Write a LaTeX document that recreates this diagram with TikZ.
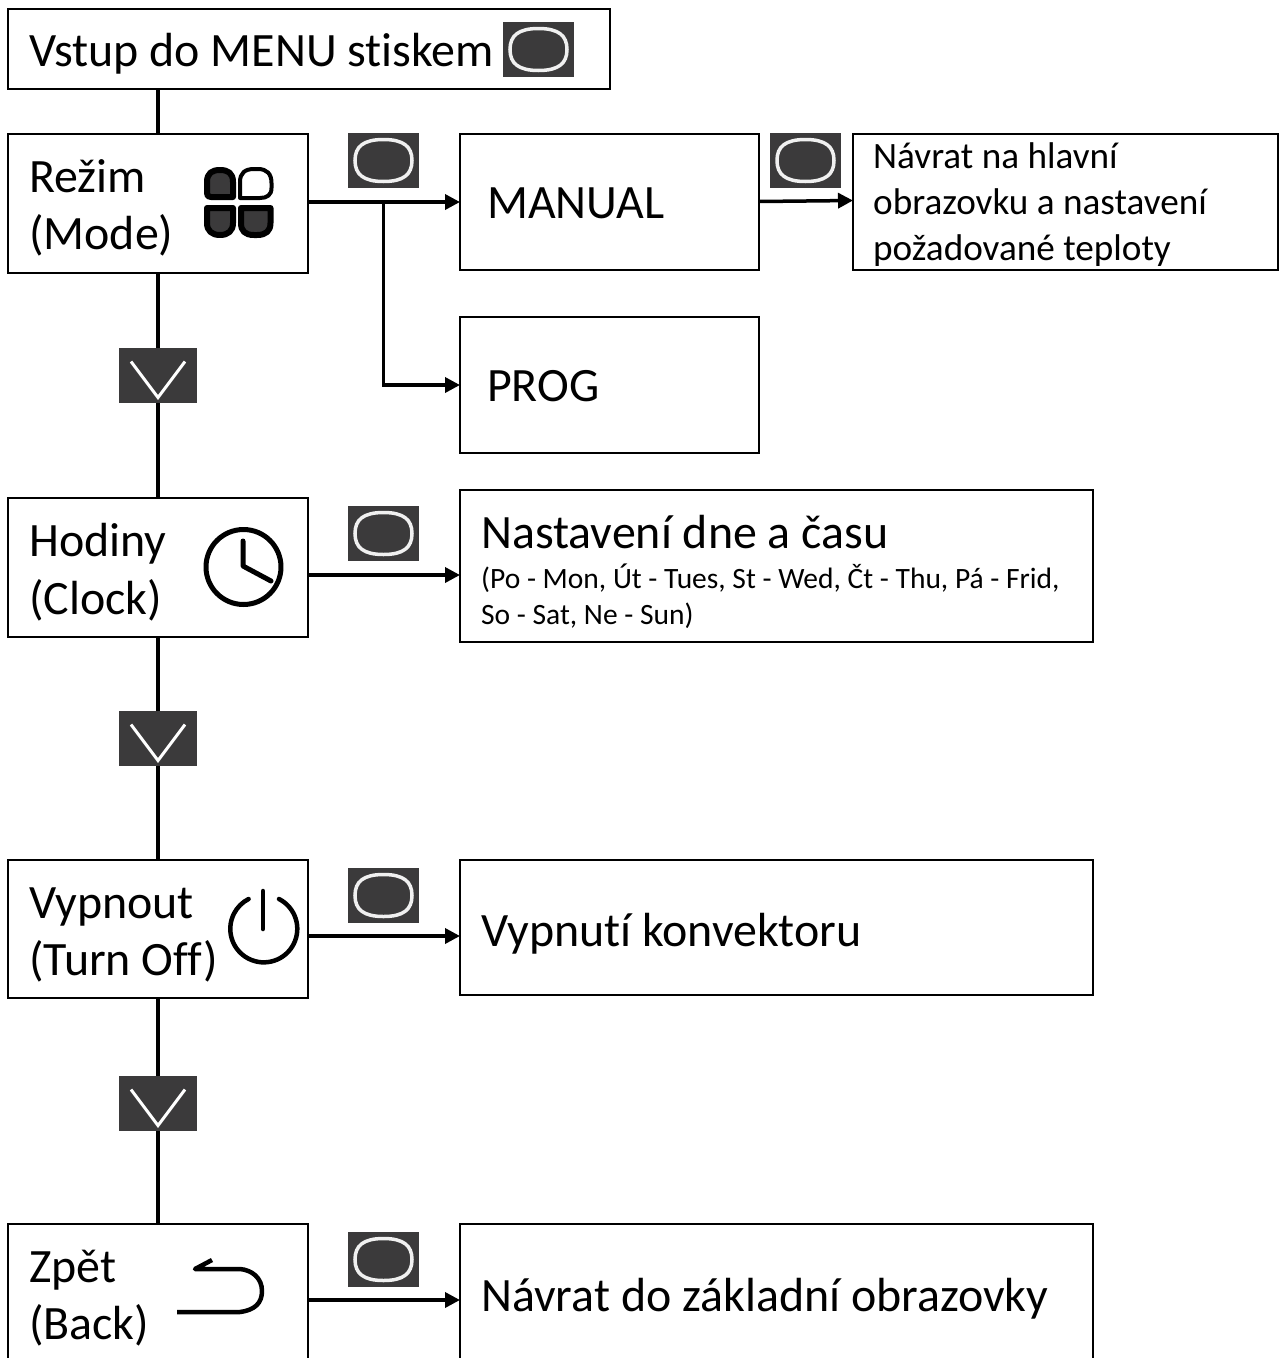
\documentclass[tikz,border=0pt]{standalone}
\usepackage{fontspec}
\setmainfont{Carlito}[Ligatures=NoCommon]
\usetikzlibrary{arrows.meta}
\tikzset{
  box/.style={draw=black,line width=2pt,fill=white,inner sep=0pt,outer sep=0pt,anchor=north west},
  big/.style={anchor=base west,inner sep=0pt,font=\fontsize{47.9}{47.9}\selectfont},
  mid/.style={anchor=base west,inner sep=0pt,font=\fontsize{37.2}{37.2}\selectfont},
  small/.style={anchor=base west,inner sep=0pt,font=\fontsize{29.5}{29.5}\selectfont},
  link/.style={line width=3.5pt,black},
  arr/.style={line width=3.5pt,black,-{Triangle[length=15pt,width=15pt]}},
  btn/.style={fill=btngray,draw=none,minimum width=71pt,minimum height=55pt,inner sep=0pt,outer sep=0pt,anchor=north west},
  chev/.style={fill=btngray,draw=none,minimum width=78pt,minimum height=55pt,inner sep=0pt,outer sep=0pt,anchor=north west},
  glyph/.style={line width=3pt,black,line cap=round,line join=round},
}
\definecolor{btngray}{HTML}{3B3A3B}
\definecolor{btnline}{HTML}{F0F0F0}
\newcommand{\btnface}[1]{%
  \draw[btnline,line width=3.5pt,fill=btngray]
    ([xshift=-28.5pt]#1.center) .. controls ([xshift=-28.5pt,yshift=14pt]#1.center) and ([xshift=-20pt,yshift=21pt]#1.center) .. ([yshift=21pt]#1.center)
    .. controls ([xshift=20pt,yshift=21pt]#1.center) and ([xshift=28.5pt,yshift=14pt]#1.center) .. ([xshift=28.5pt]#1.center)
    .. controls ([xshift=28.5pt,yshift=-14pt]#1.center) and ([xshift=20pt,yshift=-21pt]#1.center) .. ([yshift=-21pt]#1.center)
    .. controls ([xshift=-20pt,yshift=-21pt]#1.center) and ([xshift=-28.5pt,yshift=-14pt]#1.center) .. cycle;}
\newcommand{\chevface}[1]{%
  \draw[white,line width=3pt,line join=miter] ([xshift=-27pt,yshift=14pt]#1.center) -- ([yshift=-22pt]#1.center) -- ([xshift=27pt,yshift=14pt]#1.center);}
\begin{document}
\begin{tikzpicture}[x=1pt,y=-1pt]
\useasboundingbox (0,0) rectangle (1280,1358);
\clip (0,0) rectangle (1280,1358);
% boxes
\node[box,minimum width=602pt,minimum height=80pt] (top) at (8,9) {};
\node[box,minimum width=300pt,minimum height=139pt] (mode) at (8,134) {};
\node[box,minimum width=300pt,minimum height=139pt] (clock) at (8,498) {};
\node[box,minimum width=300pt,minimum height=138pt] (off) at (8,860) {};
\node[box,minimum width=300pt,minimum height=139pt] (back) at (8,1224) {};
\node[box,minimum width=299pt,minimum height=136pt] (manual) at (460,134) {};
\node[box,minimum width=425pt,minimum height=136pt] (ret) at (853,134) {};
\node[box,minimum width=299pt,minimum height=136pt] (prog) at (460,317) {};
\node[box,minimum width=633pt,minimum height=152pt] (date) at (460,490) {};
\node[box,minimum width=633pt,minimum height=135pt] (shut) at (460,860) {};
\node[box,minimum width=633pt,minimum height=136pt] (home) at (460,1224) {};
% connectors
\coordinate (fork) at (383.5,202);
\coordinate (bend) at (383.5,385);
\coordinate (spine) at (158,0);
\coordinate (ya) at (0,575);
\coordinate (yb) at (0,936);
\coordinate (yc) at (0,1300);
\draw[link] (top.south -| spine) -- (mode.north -| spine);
\draw[link] (mode.south) -- (clock.north);
\draw[link] (clock.south) -- (off.north);
\draw[link] (off.south) -- (back.north);
\draw[arr] (mode.east |- fork) -- (manual.west |- fork);
\draw[link,line cap=rect] (fork) -- (bend);
\draw[arr] (bend) -- (prog.west |- bend);
\draw[arr] ([yshift=0.5pt]manual.east) -- ([yshift=1.5pt]ret.west);
\draw[arr] (clock.east |- ya) -- (date.west |- ya);
\draw[arr] (off.east |- yb) -- (shut.west |- yb);
\draw[arr] (back.east |- yc) -- (home.west |- yc);
% texts
\node[big] (t1) at (29,66) {Vstup do MENU stiskem};
\node[big] (t2) at (29,192) {Režim};
\node[big] (t3) at (29,249) {(Mode)};
\node[big] (t4) at (29,556) {Hodiny};
\node[big] (t5) at (29,614) {(Clock)};
\node[big] (t6) at (29,918) {Vypnout};
\node[big] (t7) at (29,975) {(Turn Off)};
\node[big] (t8) at (29,1282) {Zpět};
\node[big] (t9) at (29,1339) {(Back)};
\node[big] (t10) at (487,218) {MANUAL};
\node[big] (t11) at (487,401) {PROG};
\node[mid] (t12) at (873,168) {Návrat na hlavní};
\node[mid] (t13) at (873,214) {obrazovku a nastavení};
\node[mid] (t14) at (873,260) {požadované teploty};
\node[big] (t15) at (481,548) {Nastavení dne a času};
\node[small] (t16) at (481,588) {(Po - Mon, Út - Tues, St - Wed, Čt - Thu, Pá - Frid,};
\node[small] (t17) at (481,624) {So - Sat, Ne - Sun)};
\node[big] (t18) at (481,946) {Vypnutí konvektoru};
\node[big] (t19) at (481,1311) {Návrat do základní obrazovky};
% buttons
\node[btn] (b1) at (503,22) {}; \btnface{b1}
\node[btn] (b2) at (348,133) {}; \btnface{b2}
\node[btn] (b3) at (770,133) {}; \btnface{b3}
\node[btn] (b4) at (348,506) {}; \btnface{b4}
\node[btn] (b5) at (348,868) {}; \btnface{b5}
\node[btn] (b6) at (348,1232) {}; \btnface{b6}
% chevrons
\node[chev] (c1) at (119,348) {}; \chevface{c1}
\node[chev] (c2) at (119,711) {}; \chevface{c2}
\node[chev] (c3) at (119,1076) {}; \chevface{c3}
% mode icon
\begin{scope}[line width=6pt,draw=black,line join=round]
\filldraw[fill=btngray] (207,182) .. controls (207,173) and (212,170) .. (220,170) .. controls (228,170) and (233,173) .. (233,182) -- (233,197) -- (211,197) .. controls (208,197) and (207,196) .. (207,193) -- cycle;
\filldraw[fill=white,line width=4pt] (240,198) -- (240,182) .. controls (240,173) and (245,169) .. (254,169) -- (258,169) .. controls (267,169) and (271.5,174) .. (271.5,183) -- (271.5,188) .. controls (271.5,195) and (267,198) .. (260,198) -- cycle;
\filldraw[fill=btngray] (207,208) -- (233,208) -- (233,223) .. controls (233,231) and (228,235) .. (220,235) .. controls (212,235) and (207,231) .. (207,223) -- cycle;
\filldraw[fill=btngray] (241,208) -- (270.5,208) -- (270.5,223) .. controls (270.5,231) and (266,235) .. (257,235) -- (254,235) .. controls (245,235) and (241,231) .. (241,223) -- cycle;
\end{scope}
% clock icon
\draw[glyph,line width=5pt] (243.5,567) circle (37.5);
\draw[glyph,line width=5pt] (243,541) -- (243,566) -- (271,581);
% power icon
\draw[glyph,line width=4.5pt] (279,899) arc[start angle=-63,end angle=243,radius=33.5];
\draw[glyph,line width=4.5pt] (263,891) -- (263,929);
% back icon
\draw[glyph,line width=4.5pt,line cap=butt] (177,1312) -- (240,1312) .. controls (255,1310) and (262,1303) .. (262,1291) .. controls (262,1278) and (252,1270) .. (240,1269) -- (195,1269) -- (212,1260);
\end{tikzpicture}
\end{document}
